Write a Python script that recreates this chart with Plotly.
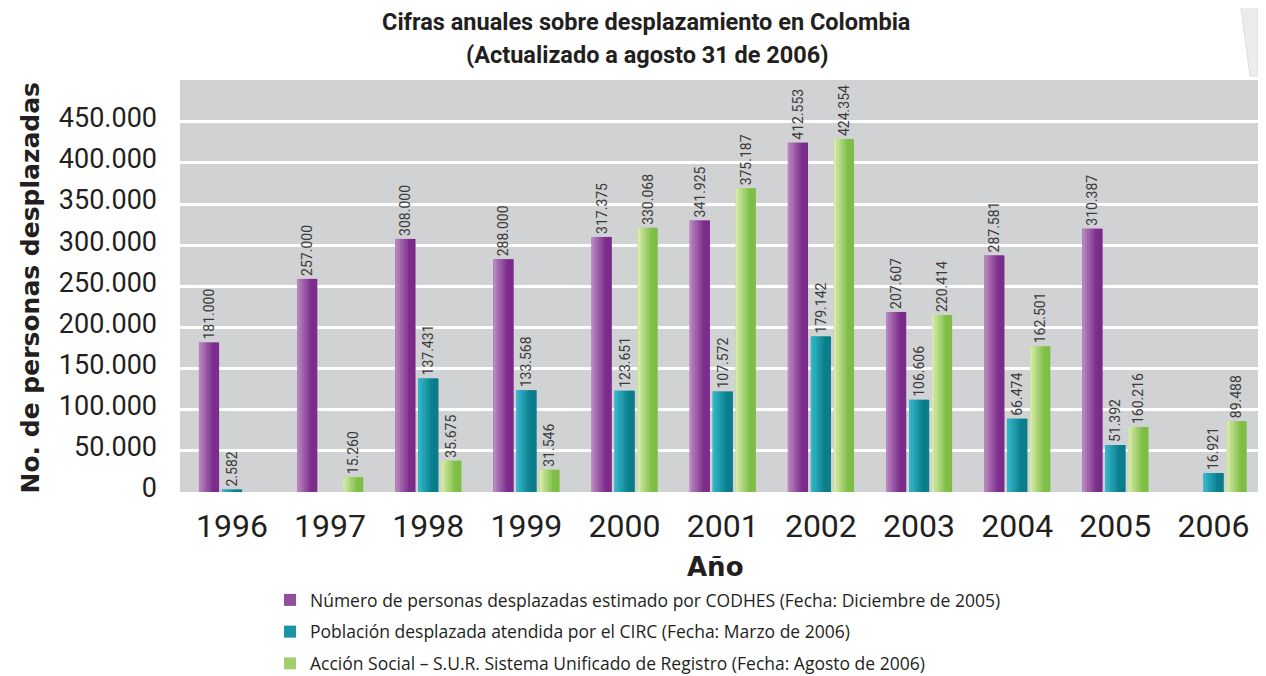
import plotly.graph_objects as go

years = ["1996", "1997", "1998", "1999", "2000", "2001", "2002", "2003", "2004", "2005", "2006"]

# Bar heights as drawn in the picture
codhes = [181600, 259000, 307600, 282800, 310000, 330000, 424500, 218800, 287500, 320000, None]
circ = [3000, None, 138000, 123600, 123000, 122000, 189000, 112000, 89000, 57000, 23000]
accion = [None, 18000, 38000, 27000, 321000, 369000, 429000, 215000, 177000, 79000, 86000]

# Printed value labels
codhes_lbl = ["181.000", "257.000", "308.000", "288.000", "317.375", "341.925", "412.553", "207.607", "287.581", "310.387", ""]
circ_lbl = ["2.582", "", "137.431", "133.568", "123.651", "107.572", "179.142", "106.606", "66.474", "51.392", "16.921"]
accion_lbl = ["", "15.260", "35.675", "31.546", "330.068", "375.187", "424.354", "220.414", "162.501", "160.216", "89.488"]

series_names = [
    "Número de personas desplazadas estimado por CODHES (Fecha: Diciembre de 2005)",
    "Población desplazada atendida por el CIRC (Fecha: Marzo de 2006)",
    "Acción Social – S.U.R. Sistema Unificado de Registro (Fecha: Agosto de 2006)",
]
grad = [
    ("#b985bf", "#7a2a8b"),
    ("#33b6cb", "#0a7c8a"),
    ("#d6eaa9", "#7cbd43"),
]
y_ticks = [0, 50000, 100000, 150000, 200000, 250000, 300000, 350000, 400000, 450000]

ROB = "Roboto, Noto Sans, sans-serif"
LEG = "Open Sans, Noto Sans, sans-serif"
BOLD = "DejaVu Sans, Verdana, sans-serif"

# the page adds an 8px body margin, so the figure is drawn 8px right/down
PAGE = 8
W, H = 1266 - PAGE, 676 - PAGE
ML, MR, MT, MB = 172, 0, 72, 184
PW, PH = W - ML - MR, H - MT - MB


def ref2paper(x, y):
    fx, fy = x - PAGE, y - PAGE
    return (fx - ML) / PW, (H - MB - fy) / PH


def hex2rgb(h):
    h = h.lstrip("#")
    return tuple(int(h[i:i + 2], 16) for i in (0, 2, 4))


def mix(c1, c2, t):
    a, b = hex2rgb(c1), hex2rgb(c2)
    return "rgb(%d,%d,%d)" % tuple(round(a[i] + (b[i] - a[i]) * t) for i in range(3))


xs = list(range(len(years)))
bar_w = 0.204
step = 0.234
n_strips = 8

fig = go.Figure()
all_vals = [codhes, circ, accion]
all_lbls = [codhes_lbl, circ_lbl, accion_lbl]
for i, (vals, lbls, name, (c1, c2)) in enumerate(zip(all_vals, all_lbls, series_names, grad)):
    base_off = (i - 1) * step - bar_w / 2
    fig.add_trace(go.Bar(
        x=xs, y=vals, width=bar_w, offset=base_off,
        marker=dict(color=mix(c1, c2, 0.6), line=dict(width=0)),
        text=lbls, textposition="outside", textangle=-90,
        constraintext="none",
        textfont=dict(family=ROB, size=14, color="#3a3a3a"),
        cliponaxis=False, name=name, legendgroup=str(i),
        hoverinfo="skip",
    ))
    sw = bar_w / n_strips
    for k in range(n_strips):
        t = min(1.0, k / (n_strips - 1) / 0.75)
        fig.add_trace(go.Bar(
            x=xs, y=vals, width=sw * 1.05, offset=base_off + k * sw,
            marker=dict(color=mix(c1, c2, t), line=dict(width=0)),
            showlegend=False, legendgroup=str(i), hoverinfo="skip",
        ))

lx, ly = ref2paper(270, 582)
fig.update_layout(
    width=W, height=H,
    margin=dict(l=ML, r=MR, t=MT, b=MB, autoexpand=False),
    barmode="overlay",
    separators=",.",
    paper_bgcolor="white",
    plot_bgcolor="#d1d2d4",
    showlegend=True,
    legend=dict(
        x=lx, y=ly, xanchor="left", yanchor="top",
        font=dict(family=LEG, size=17.5, color="#231f20"),
        traceorder="grouped", tracegroupgap=6, itemwidth=30,
        bgcolor="rgba(0,0,0,0)",
    ),
)
fig.update_xaxes(
    tickmode="array", tickvals=xs, ticktext=years,
    range=[-0.529, 10.535],
    tickfont=dict(family=ROB, size=32, color="#231f20"),
    showgrid=False, zeroline=False, showline=False, ticks="",
    ticklabelstandoff=12,
)
fig.update_yaxes(
    range=[0, 500700], tickmode="array", tickvals=y_ticks,
    tickformat=",d",
    tickfont=dict(family=ROB, size=27, color="#231f20"),
    showgrid=True, gridcolor="white", gridwidth=3,
    zeroline=False, showline=False, ticks="",
    ticklabelstandoff=22, ticklabelshift=-4,
)

tx1, ty1 = ref2paper(646, 22)
tx2, ty2 = ref2paper(647, 55)
fig.add_annotation(text="<b>Cifras anuales sobre desplazamiento en Colombia</b>",
                   xref="paper", yref="paper", x=tx1, y=ty1, showarrow=False,
                   xanchor="center", yanchor="middle",
                   font=dict(family=ROB, size=23.5, color="#231f20"))
fig.add_annotation(text="<b>(Actualizado a agosto 31 de 2006)</b>",
                   xref="paper", yref="paper", x=tx2, y=ty2, showarrow=False,
                   xanchor="center", yanchor="middle",
                   font=dict(family=ROB, size=23.5, color="#231f20"))

ax_, ay_ = ref2paper(29.5, 288)
fig.add_annotation(
    text="<b>No. de personas desplazadas</b>", textangle=-90,
    xref="paper", yref="paper", x=ax_, y=ay_, xanchor="center", yanchor="middle",
    showarrow=False, font=dict(family=BOLD, size=25, color="#231f20"),
)
nx, ny = ref2paper(715, 567)
fig.add_annotation(
    text="<b>Año</b>", xref="paper", yref="paper", x=nx, y=ny,
    xanchor="center", yanchor="middle",
    showarrow=False, font=dict(family=BOLD, size=26, color="#231f20"),
)

# page decoration in the top-right corner
p = [ref2paper(1240, 0), ref2paper(1258, 0), ref2paper(1258, 76), ref2paper(1250, 76)]
fig.add_shape(type="path", xref="paper", yref="paper",
              path="M %f %f L %f %f L %f %f L %f %f Z" % (p[0] + p[1] + p[2] + p[3]),
              fillcolor="#ececed", line=dict(color="#dcdcde", width=1), layer="below")

fig.write_html("out.html")
